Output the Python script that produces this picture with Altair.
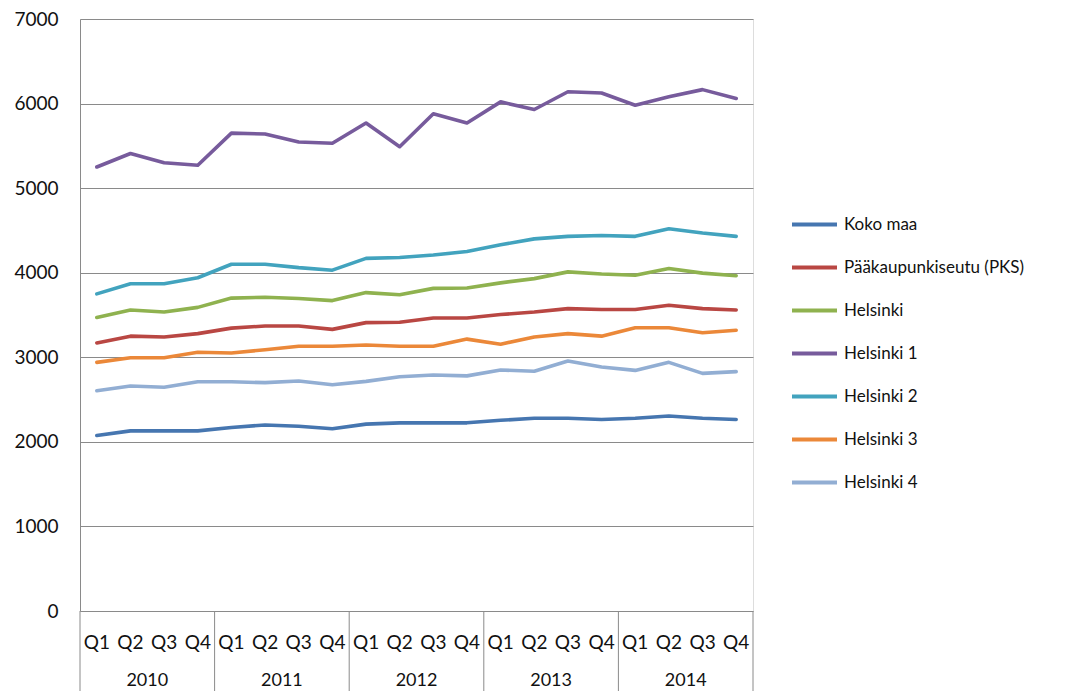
import altair as alt
import pandas as pd

quarters = ["Q1", "Q2", "Q3", "Q4"]
years = ["2010", "2011", "2012", "2013", "2014"]

series_names = ["Koko maa", "Pääkaupunkiseutu (PKS)", "Helsinki",
                "Helsinki 1", "Helsinki 2", "Helsinki 3", "Helsinki 4"]
series_colors = ["#4676B0", "#B94743", "#8FB24F", "#775B9C",
                 "#42A3BE", "#EB8839", "#92AED3"]

koko_maa = [2075, 2130, 2130, 2130, 2170, 2200, 2185, 2155, 2210, 2225,
            2225, 2225, 2255, 2280, 2280, 2265, 2280, 2305, 2280, 2265]
pks = [3170, 3250, 3240, 3280, 3345, 3370, 3370, 3330, 3410, 3415,
       3465, 3465, 3505, 3535, 3575, 3565, 3565, 3615, 3575, 3560]
helsinki = [3470, 3560, 3535, 3590, 3700, 3710, 3695, 3670, 3765, 3740,
            3815, 3820, 3880, 3930, 4010, 3985, 3970, 4050, 3995, 3965]
helsinki1 = [5250, 5410, 5300, 5270, 5650, 5640, 5545, 5530, 5770, 5490,
             5880, 5770, 6020, 5930, 6140, 6125, 5980, 6080, 6165, 6060]
helsinki2 = [3750, 3870, 3870, 3940, 4100, 4100, 4060, 4030, 4170, 4180,
             4210, 4250, 4330, 4400, 4430, 4440, 4430, 4520, 4470, 4430]
helsinki3 = [2940, 2995, 2995, 3060, 3050, 3090, 3130, 3130, 3145, 3130,
             3130, 3215, 3155, 3240, 3280, 3250, 3350, 3350, 3290, 3320]
helsinki4 = [2605, 2660, 2645, 2710, 2710, 2700, 2720, 2675, 2715, 2770,
             2790, 2780, 2850, 2835, 2955, 2885, 2845, 2940, 2810, 2830]

all_series = [koko_maa, pks, helsinki, helsinki1, helsinki2, helsinki3, helsinki4]

FONT = "Lato"
GRID = "#8A8A8A"

rows = []
for name, vals in zip(series_names, all_series):
    for i, v in enumerate(vals):
        rows.append({"series": name, "pos": i + 0.5, "value": v})
df = pd.DataFrame(rows)

q_df = pd.DataFrame([{"pos": yi * 4 + qi + 0.5, "label": q}
                     for yi, _ in enumerate(years) for qi, q in enumerate(quarters)])
y_df = pd.DataFrame([{"pos": yi * 4 + 2, "label": y} for yi, y in enumerate(years)])
d_df = pd.DataFrame({"pos": [0, 4, 8, 12, 16, 20]})

xscale = alt.Scale(domain=[0, 20], nice=False, zero=False)

lines = alt.Chart(df).mark_line(strokeWidth=3.6, strokeCap="round", strokeJoin="round").encode(
    x=alt.X("pos:Q", scale=xscale, axis=None),
    y=alt.Y("value:Q", scale=alt.Scale(domain=[0, 7000], nice=False),
            axis=alt.Axis(values=list(range(0, 7001, 1000)), title=None, format="d",
                          grid=True, gridColor=GRID, gridWidth=1,
                          domainColor=GRID, domainWidth=1, ticks=False,
                          labelFont=FONT, labelFontSize=19, labelColor="#111111",
                          labelPadding=22)),
    color=alt.Color("series:N",
                    scale=alt.Scale(domain=series_names, range=series_colors),
                    sort=series_names,
                    legend=alt.Legend(title=None, orient="none", legendX=710, legendY=181,
                                      symbolType="stroke", symbolSize=2025,
                                      symbolStrokeWidth=4, labelFont=FONT,
                                      labelFontSize=17, labelColor="#111111",
                                      labelOffset=5, rowPadding=10, padding=0,
                                      labelLimit=400)),
)

dividers = alt.Chart(d_df).mark_rule(color=GRID, strokeWidth=1).encode(
    x=alt.X("pos:Q", scale=xscale, axis=None),
    y=alt.value(592),
    y2=alt.value(688),
)

qlabels = alt.Chart(q_df).mark_text(font=FONT, fontSize=19, color="#111111",
                                    baseline="middle").encode(
    x=alt.X("pos:Q", scale=xscale, axis=None),
    y=alt.value(624),
    text="label:N",
)

ylabels = alt.Chart(y_df).mark_text(font=FONT, fontSize=18, color="#111111",
                                    baseline="middle").encode(
    x=alt.X("pos:Q", scale=xscale, axis=None),
    y=alt.value(662),
    text="label:N",
)

chart = alt.layer(lines, dividers, qlabels, ylabels).properties(
    width=673, height=592,
    autosize=alt.AutoSizeParams(type="none"),
    padding={"left": 72, "top": 11, "right": 320, "bottom": 80},
).configure_view(stroke=None).configure(background="white")

chart.save("out.html", embed_options={"renderer": "svg", "actions": False})
